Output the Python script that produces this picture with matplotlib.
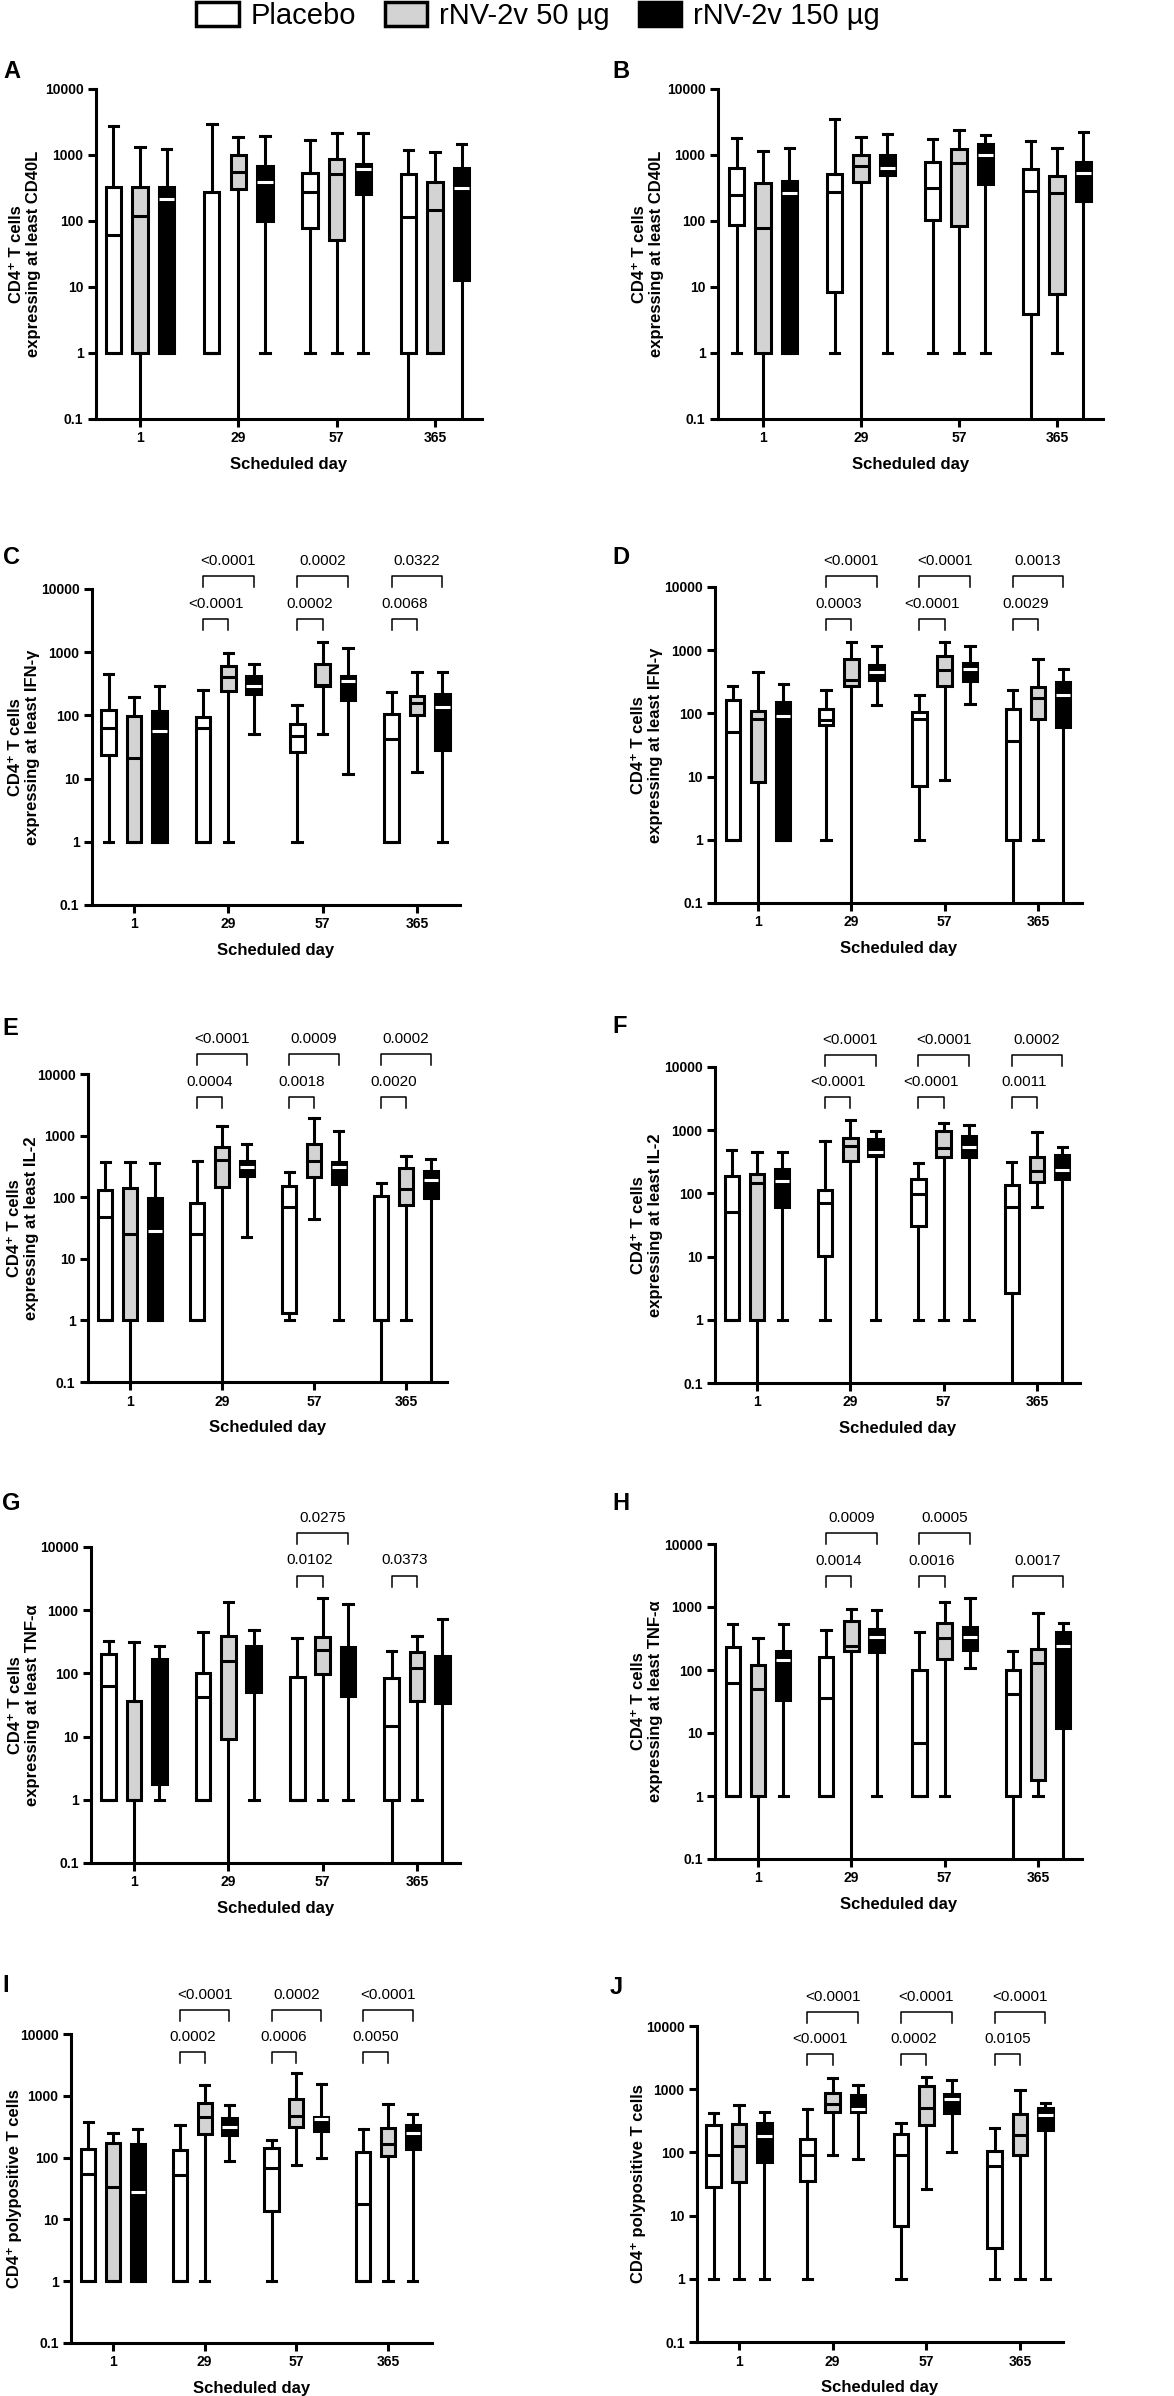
import matplotlib
matplotlib.use("Agg")
import matplotlib.pyplot as plt
import matplotlib.transforms as mtransforms
from matplotlib.patches import Patch
import numpy as np

plt.rcParams['font.family'] = ['Liberation Sans', 'DejaVu Sans']

days = ["1", "29", "57", "365"]
groups = ["Placebo", "rNV-2v 50 µg", "rNV-2v 150 µg"]

# each row: [whisker low, q1, median, q3, whisker high] for days 1, 29, 57, 365
# a whisker low of 0 means it runs below the 0.1 axis floor
A_pla = [[1, 1, 61, 324, 2780], [1, 1, 1, 278, 2985], [1, 77, 278, 540, 1706], [0, 1, 115, 521, 1205]]
A_lo = [[0, 1, 118, 324, 1306], [0, 305, 552, 989, 1853], [1, 52, 515, 870, 2180], [1, 1, 147, 385, 1124]]
A_hi = [[1, 1, 215, 330, 1247], [1, 101, 385, 681, 1963], [1, 259, 613, 722, 2130], [0, 12.9, 316, 628, 1485]]

B_pla = [[1, 86, 245, 628, 1832], [1, 8.5, 275, 509, 3510], [1, 105, 313, 792, 1746], [0, 3.9, 288, 613, 1610]]
B_lo = [[0, 1, 78, 376, 1150], [0, 394, 673, 1000, 1875], [1, 83, 757, 1233, 2420], [1, 7.7, 266, 475, 1262]]
B_hi = [[1, 1, 266, 408, 1262], [1, 492, 635, 1000, 2055], [1, 364, 1000, 1468, 2010], [0, 201, 527, 774, 2205]]

C_pla = [[1, 24, 63, 120, 456], [1, 1, 63, 96, 248], [1, 25.9, 47.5, 73, 147], [1, 1, 42.6, 106, 237]]
C_lo = [[1, 1, 21, 99, 197], [1, 242, 404, 610, 981], [51, 294, 300, 656, 1448], [12.9, 100, 156, 204, 479]]
C_hi = [[1, 1, 56, 118, 294], [51, 220, 287, 424, 641], [11.9, 177, 345, 424, 1178], [1, 28, 134, 215, 479]]

D_pla = [[1, 1, 50, 165, 275], [1, 66, 78, 117, 238], [1, 7.2, 81, 105, 198], [0, 1, 37, 117, 232]]
D_lo = [[0, 8.3, 81, 108, 447], [0, 275, 342, 735, 1365], [8.9, 268, 492, 800, 1330], [1, 81, 175, 262, 735]]
D_hi = [[1, 1, 92, 150, 288], [134, 334, 447, 590, 1180], [143, 321, 502, 627, 1180], [0, 61, 198, 310, 505]]

E_pla = [[1, 1, 48, 130, 376], [1, 1, 25, 81, 385], [1, 1.34, 70, 151, 255], [0, 1, 1, 105, 167]]
E_lo = [[0, 1, 25, 139, 376], [0, 144, 400, 643, 1446], [45, 215, 381, 728, 1950], [1, 76, 137, 297, 465]]
E_hi = [[1, 1, 28, 98, 353], [23, 220, 312, 391, 738], [1, 163, 312, 376, 1185], [0, 98, 192, 269, 410]]

F_pla = [[1, 1, 51, 189, 489], [1, 10.2, 71, 113, 663], [1, 30.5, 98, 168, 301], [0, 2.7, 62, 136, 319]]
F_lo = [[0, 1, 145, 201, 444], [0, 331, 566, 748, 1462], [1, 383, 520, 955, 1294], [60, 150, 227, 374, 931]]
F_hi = [[1, 62, 158, 241, 444], [1, 393, 444, 721, 955], [1, 383, 552, 796, 1189], [0, 168, 235, 403, 539]]

G_pla = [[1, 1, 64, 204, 331], [1, 1, 43, 100, 460], [1, 1, 1, 89, 360], [0, 1, 14.7, 84, 230]]
G_lo = [[0, 1, 1, 36, 319], [0, 9.1, 158, 397, 1327], [1, 97, 235, 383, 1553], [1, 37, 120, 222, 393]]
G_hi = [[1, 1.81, 40, 169, 273], [1, 51, 120, 273, 478], [1, 44, 110, 260, 1247], [0, 33.6, 90, 189, 731]]

H_pla = [[1, 1, 62, 235, 539], [1, 1, 36, 160, 433], [1, 1, 6.9, 100, 407], [0, 1, 42, 100, 201]]
H_lo = [[0, 1, 50, 120, 327], [0, 201, 241, 601, 920], [1, 148, 319, 552, 1218], [1, 1.77, 128, 214, 796]]
H_hi = [[1, 33, 145, 201, 539], [1, 192, 331, 444, 900], [107, 204, 340, 489, 1375], [0, 11.9, 241, 407, 566]]

I_pla = [[1, 1, 55, 137, 379], [1, 1, 52, 133, 334], [1, 13.6, 69, 142, 193], [1, 1, 17.5, 124, 288]]
I_lo = [[1, 1, 33, 171, 254], [1, 245, 451, 751, 1489], [77, 314, 474, 883, 2300], [1, 106, 164, 306, 733]]
I_hi = [[1, 1, 28, 164, 288], [88, 236, 318, 445, 706], [98, 270, 419, 456, 1546], [1, 140, 248, 334, 517]]

J_pla = [[1, 28, 91, 268, 425], [1, 35, 90, 161, 480], [1, 6.8, 92, 193, 295], [1, 3.1, 61, 105, 246]]
J_lo = [[1, 34, 126, 278, 562], [90, 436, 576, 881, 1486], [26.7, 268, 498, 1124, 1578], [1, 91, 188, 400, 959]]
J_hi = [[1, 70, 182, 288, 441], [78, 436, 492, 819, 1152], [101, 415, 708, 849, 1399], [1, 226, 391, 498, 612]]

ylabels = {
    "A": "CD4⁺ T cells\nexpressing at least CD40L",
    "B": "CD4⁺ T cells\nexpressing at least CD40L",
    "C": "CD4⁺ T cells\nexpressing at least IFN-γ",
    "D": "CD4⁺ T cells\nexpressing at least IFN-γ",
    "E": "CD4⁺ T cells\nexpressing at least IL-2",
    "F": "CD4⁺ T cells\nexpressing at least IL-2",
    "G": "CD4⁺ T cells\nexpressing at least TNF-α",
    "H": "CD4⁺ T cells\nexpressing at least TNF-α",
    "I": "CD4⁺ polypositive T cells",
    "J": "CD4⁺ polypositive T cells",
}

# p-values: (day index, compared group 1=50µg 2=150µg, row 0=lower 1=upper, text)
C_p = [(1, 1, 0, "<0.0001"), (1, 2, 1, "<0.0001"), (2, 1, 0, "0.0002"), (2, 2, 1, "0.0002"), (3, 1, 0, "0.0068"), (3, 2, 1, "0.0322")]
D_p = [(1, 1, 0, "0.0003"), (1, 2, 1, "<0.0001"), (2, 1, 0, "<0.0001"), (2, 2, 1, "<0.0001"), (3, 1, 0, "0.0029"), (3, 2, 1, "0.0013")]
E_p = [(1, 1, 0, "0.0004"), (1, 2, 1, "<0.0001"), (2, 1, 0, "0.0018"), (2, 2, 1, "0.0009"), (3, 1, 0, "0.0020"), (3, 2, 1, "0.0002")]
F_p = [(1, 1, 0, "<0.0001"), (1, 2, 1, "<0.0001"), (2, 1, 0, "<0.0001"), (2, 2, 1, "<0.0001"), (3, 1, 0, "0.0011"), (3, 2, 1, "0.0002")]
G_p = [(2, 1, 0, "0.0102"), (2, 2, 1, "0.0275"), (3, 1, 0, "0.0373")]
H_p = [(1, 1, 0, "0.0014"), (1, 2, 1, "0.0009"), (2, 1, 0, "0.0016"), (2, 2, 1, "0.0005"), (3, 2, 0, "0.0017")]
I_p = [(1, 1, 0, "0.0002"), (1, 2, 1, "<0.0001"), (2, 1, 0, "0.0006"), (2, 2, 1, "0.0002"), (3, 1, 0, "0.0050"), (3, 2, 1, "<0.0001")]
J_p = [(1, 1, 0, "<0.0001"), (1, 2, 1, "<0.0001"), (2, 1, 0, "0.0002"), (2, 2, 1, "<0.0001"), (3, 1, 0, "0.0105"), (3, 2, 1, "<0.0001")]

panels = {
    "A": (A_pla, A_lo, A_hi, []), "B": (B_pla, B_lo, B_hi, []),
    "C": (C_pla, C_lo, C_hi, C_p), "D": (D_pla, D_lo, D_hi, D_p),
    "E": (E_pla, E_lo, E_hi, E_p), "F": (F_pla, F_lo, F_hi, F_p),
    "G": (G_pla, G_lo, G_hi, G_p), "H": (H_pla, H_lo, H_hi, H_p),
    "I": (I_pla, I_lo, I_hi, I_p), "J": (J_pla, J_lo, J_hi, J_p),
}

# layout in pixels: y spine x, axis right end, y of 10000, y of 0.1, x of tick "1", x of tick "365",
# letter x, letter y, bracket offset above top, y label centre x
layout = {
    "A": (96, 482, 89, 419, 140, 435, 3, 71, 0, 25),
    "B": (718, 1103, 89, 419, 763, 1057, 612, 71, 0, 648),
    "C": (92, 460, 589, 905, 134, 417, 3, 557, 12.7, 24),
    "D": (715, 1082, 587, 903, 758, 1038, 612, 557, 10.7, 647),
    "E": (88, 447, 1074, 1382, 130, 406, 2, 1028, 20, 23),
    "F": (715, 1080, 1067, 1383, 757, 1037, 612, 1027, 12.3, 647),
    "G": (91, 460, 1547, 1863, 134, 417, 2, 1503, 14, 24),
    "H": (715, 1082, 1544, 1859, 758, 1038, 612, 1503, 10.7, 647),
    "I": (71, 432, 2034, 2343, 113, 388, 2, 1986, 24.3, 15),
    "J": (697, 1063, 2026, 2342, 739, 1020, 610, 1987, 14.3, 638),
}

W, H = 1174, 2396
fig = plt.figure(figsize=(W / 100, H / 100), dpi=100)

faces = ["white", "#d3d3d3", "black"]
offsets = [-0.27, 0.0, 0.27]
bw = 0.155
lw = 2.2
floor = 0.01

for key, (pla, lo, hi, pvals) in panels.items():
    x0, x1, ytop, ybot, t1, t4, lx, ly, boff, ylx = layout[key]
    ax = fig.add_axes([x0 / W, 1 - ybot / H, (x1 - x0) / W, (ybot - ytop) / H])
    ppu = (t4 - t1) / 3.0
    for gi, series in enumerate([pla, lo, hi]):
        stats = []
        for row in series:
            wl, q1, med, q3, wh = row
            stats.append(dict(whislo=max(wl, floor), q1=q1, med=med, q3=q3, whishi=wh, fliers=[]))
        mcol = "black"
        if gi == 2 and key != "G":
            mcol = "white"
        ax.bxp(stats, positions=np.arange(4) + offsets[gi], widths=bw, capwidths=0.1,
               patch_artist=True, showfliers=False, manage_ticks=False,
               boxprops=dict(facecolor=faces[gi], edgecolor="black", linewidth=lw),
               medianprops=dict(color=mcol, linewidth=lw),
               whiskerprops=dict(color="black", linewidth=lw),
               capprops=dict(color="black", linewidth=lw))
    ax.set_yscale("log")
    ax.set_ylim(0.1, 10000)
    ax.set_xlim(-(t1 - x0) / ppu, 3 + (x1 - t4) / ppu)
    ax.set_yticks([0.1, 1, 10, 100, 1000, 10000])
    ax.set_yticklabels(["0.1", "1", "10", "100", "1000", "10000"])
    ax.yaxis.set_minor_locator(matplotlib.ticker.NullLocator())
    ax.set_xticks(range(4))
    ax.set_xticklabels(days)
    ax.tick_params(axis="both", length=6, width=lw, labelsize=10, pad=3)
    for t in ax.get_xticklabels() + ax.get_yticklabels():
        t.set_fontweight("bold")
    for s in ["top", "right"]:
        ax.spines[s].set_visible(False)
    for s in ["left", "bottom"]:
        ax.spines[s].set_linewidth(lw)
    ax.set_xlabel("Scheduled day", fontsize=12, fontweight="bold", labelpad=8)
    fig.text(ylx / W, 1 - (ytop + ybot) / 2 / H, ylabels[key], fontsize=12, fontweight="bold",
             rotation=90, ha="center", va="center", multialignment="center", linespacing=1.15)
    fig.text(lx / W, 1 - ly / H, key, fontsize=17, fontweight="bold", ha="left", va="center")

    # significance brackets drawn above the boxes
    trans = mtransforms.blended_transform_factory(ax.transData, ax.transAxes)
    hpx = ybot - ytop
    for di, g, row, txt in pvals:
        bar = boff - 42.5 * (1 - row)
        xa = di + offsets[0]
        xb = di + offsets[g]
        yb = 1 + bar / hpx
        yt = 1 + (bar - 11) / hpx
        ax.plot([xa, xa, xb, xb], [yt, yb, yb, yt], color="black", lw=1.1,
                transform=trans, clip_on=False)
        ax.text((xa + xb) / 2, 1 + (bar + 15) / hpx, txt, transform=trans,
                ha="center", va="center", fontsize=11)

handles = [Patch(facecolor=faces[i], edgecolor="black", linewidth=2.5) for i in range(3)]
fig.legend(handles, groups, loc="center", bbox_to_anchor=(538 / W, 1 - 16 / H), ncol=3,
           frameon=False, fontsize=21, handlelength=1.45, handleheight=0.9,
           handletextpad=0.4, columnspacing=1.0)

fig.savefig("out.png", dpi=100)
